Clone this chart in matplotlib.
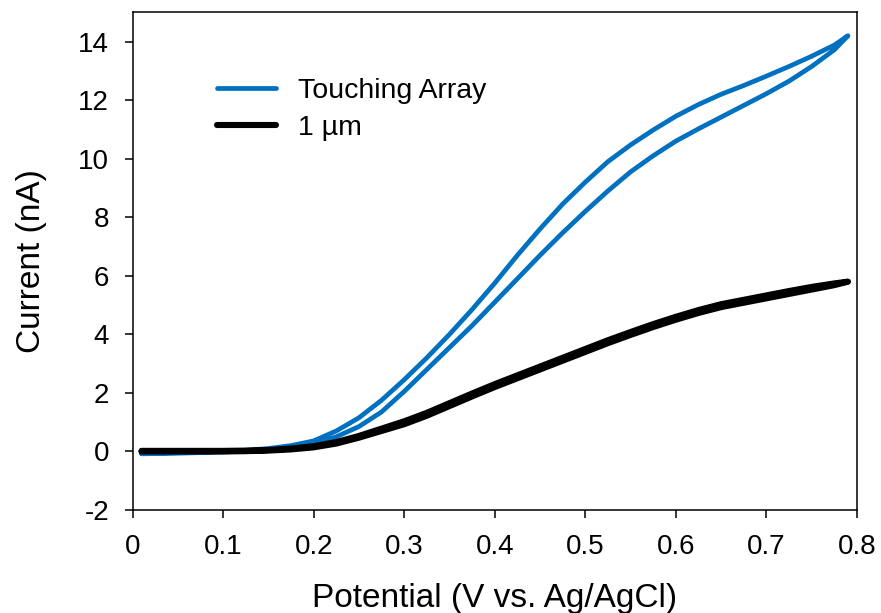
import matplotlib
matplotlib.use('Agg')
import matplotlib.pyplot as plt

# Potentials (V vs Ag/AgCl)
potential = [0.01, 0.05, 0.1, 0.125, 0.15, 0.175, 0.2, 0.225, 0.25, 0.275, 0.3, 0.325,
             0.35, 0.375, 0.4, 0.425, 0.45, 0.475, 0.5, 0.525, 0.55, 0.575, 0.6,
             0.625, 0.65, 0.675, 0.7, 0.725, 0.75, 0.775, 0.79]

# Touching array: forward (lower) and reverse (upper) branches, nA
touch_fwd = [-0.08, -0.06, -0.02, 0.01, 0.05, 0.12, 0.25, 0.5, 0.85, 1.35, 2.05, 2.8,
             3.55, 4.3, 5.1, 5.9, 6.7, 7.47, 8.2, 8.9, 9.55, 10.1, 10.6,
             11.02, 11.42, 11.82, 12.22, 12.65, 13.15, 13.72, 14.2]
touch_rev = [-0.06, -0.04, 0.0, 0.04, 0.1, 0.2, 0.36, 0.7, 1.15, 1.75, 2.45, 3.2,
             4.0, 4.85, 5.75, 6.7, 7.6, 8.45, 9.2, 9.9, 10.47, 10.98, 11.45,
             11.85, 12.2, 12.5, 12.82, 13.15, 13.5, 13.88, 14.2]

# 1 um spacing: forward and reverse, nA
one_fwd = [0.0, 0.0, 0.0, 0.01, 0.03, 0.07, 0.14, 0.27, 0.47, 0.7, 0.93, 1.22,
           1.55, 1.88, 2.2, 2.5, 2.8, 3.1, 3.4, 3.7, 3.98, 4.25, 4.5,
           4.73, 4.93, 5.08, 5.23, 5.38, 5.53, 5.68, 5.8]
one_rev = [0.02, 0.02, 0.02, 0.03, 0.05, 0.1, 0.18, 0.32, 0.53, 0.78, 1.03, 1.32,
           1.65, 1.98, 2.3, 2.6, 2.9, 3.2, 3.5, 3.8, 4.08, 4.35, 4.6,
           4.83, 5.03, 5.18, 5.33, 5.48, 5.62, 5.74, 5.8]

plt.rcParams['font.family'] = ['Liberation Sans', 'DejaVu Sans']
plt.rcParams['axes.unicode_minus'] = False

fig = plt.figure(figsize=(8.81, 6.13), dpi=100)
ax = fig.add_axes([0.1504, 0.168, 0.8224, 0.812])

blue = '#0070C0'
ax.plot(potential + potential[::-1], touch_fwd + touch_rev[::-1], color=blue,
        lw=3.4, solid_capstyle='round', solid_joinstyle='round', label='Touching Array')
ax.plot(potential + potential[::-1], one_fwd + one_rev[::-1], color='black',
        lw=4.4, solid_capstyle='round', solid_joinstyle='round', label='1 µm')

ax.set_xlim(0, 0.8)
ax.set_ylim(-2, 15)
ax.set_xticks([0, 0.1, 0.2, 0.3, 0.4, 0.5, 0.6, 0.7, 0.8])
ax.set_xticklabels(['0', '0.1', '0.2', '0.3', '0.4', '0.5', '0.6', '0.7', '0.8'])
ax.set_yticks(range(-2, 15, 2))
ax.tick_params(direction='out', length=6, width=1.1, labelsize=20, pad=11)

for s in ax.spines.values():
    s.set_linewidth(1.1)

ax.set_xlabel('Potential (V vs. Ag/AgCl)', fontsize=24, labelpad=17)
ax.set_ylabel('Current (nA)', fontsize=24, labelpad=22)

ax.legend(loc='upper left', bbox_to_anchor=(0.117, 0.868), frameon=False,
          fontsize=20.5, handlelength=2.05, handletextpad=0.77, labelspacing=0.4,
          borderpad=0, borderaxespad=0)

fig.savefig('out.png', dpi=100)
